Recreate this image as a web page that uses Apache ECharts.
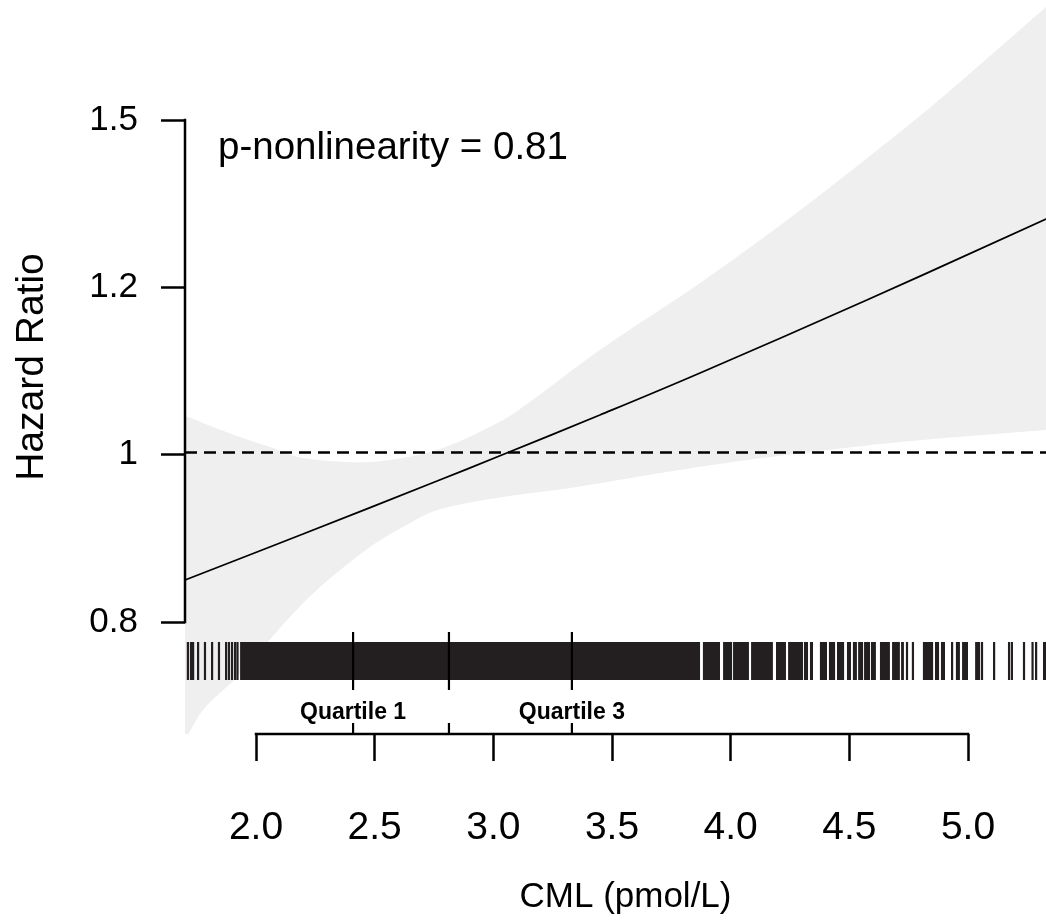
<!DOCTYPE html>
<html>
<head>
<meta charset="utf-8">
<title>CML hazard ratio</title>
<script src="https://cdn.jsdelivr.net/npm/echarts@6/dist/echarts.min.js"></script>
<style>
  html, body { margin: 0; padding: 0; background: #fff; }
  #chart { width: 1046px; height: 924px; }
</style>
</head>
<body>
<div id="chart"></div>
<script>
  // tick marks
  var cmlTicks = [2.0, 2.5, 3.0, 3.5, 4.0, 4.5, 5.0];
  var hrTickValues = [0.8, 0.9865, 1.2164, 1.5];   // log-spaced, labels are rounded
  var hrTickLabels = ['0.8', '1', '1.2', '1.5'];

  // fitted hazard ratio
  var curveCml = [1.701, 2.198, 2.763, 3.015, 3.449, 3.871, 4.574, 5.329];
  var curveHr  = [0.8432, 0.8932, 0.9545, 0.9836, 1.0367, 1.0927, 1.1973, 1.3251];

  // confidence band
  var upperCml = [1.701, 1.920, 2.059, 2.198, 2.480, 2.763, 3.041, 3.176, 3.449, 3.871, 4.136, 4.431, 4.853, 5.329];
  var upperHr  = [1.0354, 1.0098, 0.9960, 0.9824, 0.9775, 0.9923, 1.0303, 1.0590, 1.1246, 1.2230, 1.2939, 1.3828, 1.5285, 1.7281];
  var lowerCml = [1.701, 1.777, 1.920, 2.131, 2.270, 2.480, 2.619, 2.763, 3.041, 3.323, 3.732, 4.069, 4.714, 5.329];
  var lowerHr  = [0.690, 0.7166, 0.7467, 0.802, 0.8358, 0.8787, 0.9010, 0.9204, 0.9355, 0.9462, 0.9653, 0.9799, 1.0022, 1.0174];

  // rug of observations: solid runs and single ticks
  var rugRuns = [
    [1.933, 3.871], [3.883, 3.955], [3.968, 4.006], [4.010, 4.077], [4.086, 4.178],
    [4.191, 4.233], [4.242, 4.305], [4.309, 4.326], [4.334, 4.347], [4.376, 4.406],
    [4.414, 4.440], [4.448, 4.478], [4.490, 4.507], [4.515, 4.532], [4.537, 4.558],
    [4.562, 4.587], [4.591, 4.612], [4.629, 4.671], [4.680, 4.713], [4.718, 4.730],
    [4.810, 4.853], [4.861, 4.878], [4.886, 4.903], [4.949, 4.966], [4.975, 5.000],
    [5.030, 5.051], [5.055, 5.063], [5.316, 5.329]
  ];
  var rugTicks = [1.713, 1.726, 1.735, 1.756, 1.785, 1.815, 1.844, 1.874, 1.886, 1.899,
    1.912, 1.922, 4.743, 4.768, 4.933, 5.110, 5.173, 5.185, 5.236, 5.272, 5.287];

  var quartileCml = [2.409, 2.813, 3.331];
  var quartileNames = ['Quartile 1', '', 'Quartile 3'];

  var X_MIN = 1.70084, X_MAX = 5.32865;
  var Y_MIN = Math.log(0.6953), Y_MAX = Math.log(1.7432);
  var FONT = '"Liberation Sans", Arial, Helvetica, sans-serif';

  function lnPairs(xs, ys) {
    return xs.map(function (x, i) { return [x, Math.log(ys[i])]; });
  }

  var rugData = rugRuns.concat(rugTicks.map(function (v) { return [v, v]; }));
  var yTickLn = hrTickValues.map(function (v) { return Math.log(v); });

  var myChart = echarts.init(document.getElementById('chart'));

  var option = {
    backgroundColor: '#fff',
    animation: false,
    grid: { left: 185, right: 0, top: 0, height: 734, outerBoundsMode: 'none', containLabel: false },
    xAxis: {
      type: 'value',
      min: X_MIN,
      max: X_MAX,
      axisLine: { show: false, onZero: false },
      splitLine: { show: false },
      axisTick: {
        show: true, length: 27, customValues: cmlTicks,
        lineStyle: { color: '#000', width: 2.5 }
      },
      axisLabel: {
        customValues: cmlTicks, margin: 75, color: '#000', fontSize: 39, fontFamily: FONT,
        formatter: function (v) { return v.toFixed(1); }
      },
      name: 'CML (pmol/L)',
      nameLocation: 'middle',
      nameGap: 146,
      nameTextStyle: { color: '#000', fontSize: 35, fontFamily: FONT, padding: [0, 0, 0, 20] }
    },
    yAxis: {
      type: 'value',
      min: Y_MIN,
      max: Y_MAX,
      axisLine: { show: false, onZero: false },
      splitLine: { show: false },
      axisTick: {
        show: true, length: 24, customValues: yTickLn,
        lineStyle: { color: '#000', width: 2.5 }
      },
      axisLabel: {
        customValues: yTickLn, margin: 47, color: '#000', fontSize: 35, fontFamily: FONT,
        formatter: function (v) {
          var best = 0;
          yTickLn.forEach(function (t, i) { if (Math.abs(t - v) < Math.abs(yTickLn[best] - v)) best = i; });
          return hrTickLabels[best];
        }
      },
      name: 'Hazard Ratio',
      nameLocation: 'middle',
      nameGap: 133,
      nameTextStyle: { color: '#000', fontSize: 39, fontFamily: FONT }
    },
    graphic: [{
      type: 'text',
      x: 218, y: 148,
      style: { text: 'p-nonlinearity = 0.81', fill: '#000', font: '38.5px ' + FONT, verticalAlign: 'middle' }
    }],
    series: [
      {
        name: 'band',
        type: 'custom',
        clip: true,
        z: 1,
        data: [[0]],
        renderItem: function (params, api) {
          var up = lnPairs(upperCml, upperHr).map(function (p) { return api.coord(p); });
          var low = lnPairs(lowerCml, lowerHr).map(function (p) { return api.coord(p); }).reverse();
          // repeat the end points so the smoothing keeps the corners sharp
          var pts = [up[0]].concat(up, [up[up.length - 1]], [low[0]], low, [low[low.length - 1]]);
          return { type: 'polygon', shape: { points: pts, smooth: 0.3 }, style: { fill: '#efefef' } };
        }
      },
      {
        name: 'HR',
        type: 'line',
        z: 3,
        smooth: 0.4,
        symbol: 'none',
        data: lnPairs(curveCml, curveHr),
        lineStyle: { color: '#000', width: 1.8 },
        markLine: {
          silent: true,
          symbol: 'none',
          label: { show: false },
          lineStyle: { color: '#000', width: 2.5, type: [12, 7] },
          data: [{ yAxis: yTickLn[1] }]
        }
      },
      {
        name: 'rug',
        type: 'custom',
        z: 4,
        data: rugData,
        renderItem: function (params, api) {
          var cs = params.coordSys;
          var bottom = cs.y + cs.height;
          var p1 = api.coord([api.value(0), Y_MIN]);
          var p2 = api.coord([api.value(1), Y_MIN]);
          var w = Math.max(p2[0] - p1[0], 2.2);
          var cx = (p1[0] + p2[0]) / 2;
          return { type: 'rect', shape: { x: cx - w / 2, y: bottom - 92, width: w, height: 38 }, style: { fill: '#231f20' } };
        }
      },
      {
        name: 'quartiles',
        type: 'custom',
        z: 5,
        data: quartileCml.map(function (v, i) { return [v, i]; }),
        renderItem: function (params, api) {
          var cs = params.coordSys;
          var bottom = cs.y + cs.height;
          var x = api.coord([api.value(0), Y_MIN])[0];
          var idx = api.value(1);
          var st = { stroke: '#000', lineWidth: 2.2 };
          var children = [
            { type: 'line', shape: { x1: x, y1: bottom - 102, x2: x, y2: bottom - 44 }, style: st },
            { type: 'line', shape: { x1: x, y1: bottom - 11, x2: x, y2: bottom }, style: st }
          ];
          if (quartileNames[idx]) {
            children.push({
              type: 'text', x: x, y: bottom - 10,
              style: { text: quartileNames[idx], fill: '#000', font: 'bold 23px ' + FONT, align: 'center', verticalAlign: 'bottom' }
            });
          }
          return { type: 'group', children: children };
        }
      },
      {
        name: 'frame',
        type: 'custom',
        z: 6,
        clip: false,
        data: [[0]],
        renderItem: function (params, api) {
          var st = { stroke: '#000', lineWidth: 2.5 };
          var y0 = api.coord([X_MIN, yTickLn[0]]);
          var y1 = api.coord([X_MIN, yTickLn[yTickLn.length - 1]]);
          var x0 = api.coord([cmlTicks[0], Y_MIN]);
          var x1 = api.coord([cmlTicks[cmlTicks.length - 1], Y_MIN]);
          return {
            type: 'group',
            children: [
              { type: 'line', shape: { x1: y0[0], y1: y0[1] + 1.25, x2: y1[0], y2: y1[1] - 1.25 }, style: st },
              { type: 'line', shape: { x1: x0[0] - 1.25, y1: x0[1], x2: x1[0] + 1.25, y2: x1[1] }, style: st }
            ]
          };
        }
      }
    ]
  };

  myChart.setOption(option);
</script>
</body>
</html>
